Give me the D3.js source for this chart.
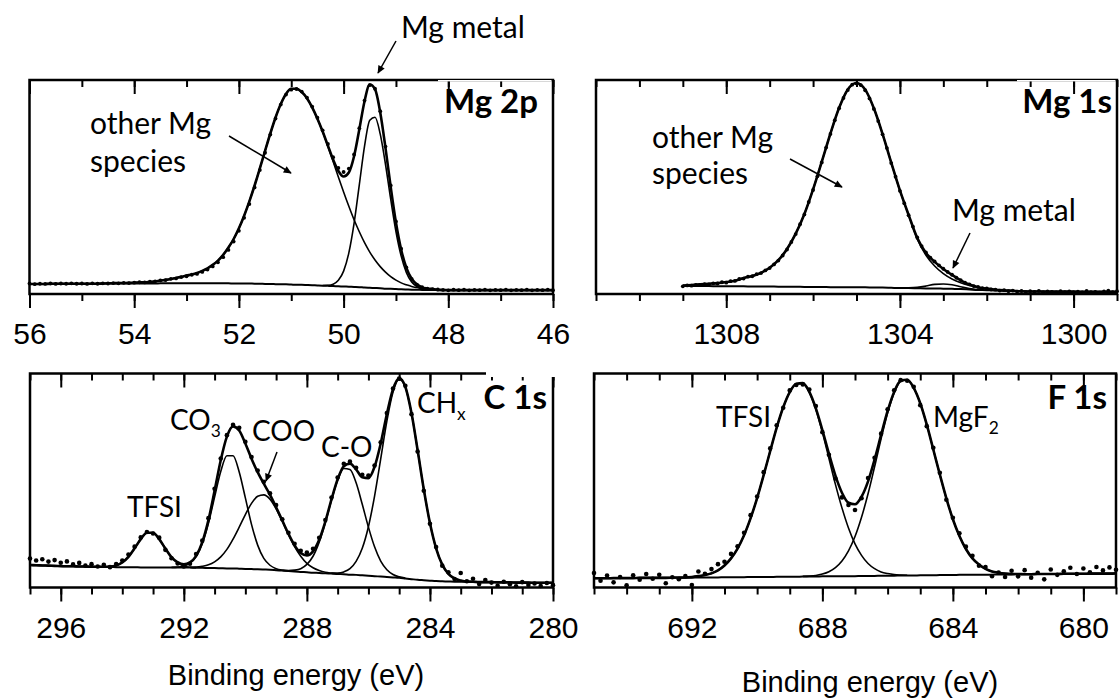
<!DOCTYPE html>
<html><head><meta charset="utf-8">
<script src="https://cdn.jsdelivr.net/npm/d3@7"></script>
<style>body{margin:0;background:#fff}svg{display:block}</style>
</head><body>
<svg id="c" width="1120" height="699"></svg>
<script>
// ================= DATA =================
// ---- Mg 2p (grid 0.1 eV, 56.0 -> 46.0) ----
const mg2pX0 = 56.0, mg2pStep = 0.1;
const mg2pBg = [4.7,4.7,4.7,4.7,4.8,4.8,4.8,4.8,4.8,4.8,
  4.8,4.8,4.8,4.8,4.9,4.9,4.9,4.9,4.9,4.9,
  4.9,4.9,4.9,4.9,4.9,5.0,5.0,5.0,5.0,5.0,
  5.0,5.0,5.0,5.0,5.0,5.0,5.0,5.0,5.0,4.9,
  4.9,4.9,4.9,4.8,4.8,4.7,4.7,4.6,4.5,4.5,
  4.4,4.3,4.3,4.2,4.1,4.0,3.9,3.8,3.7,3.6,
  3.5,3.4,3.3,3.2,3.0,2.9,2.8,2.7,2.5,2.4,
  2.3,2.2,2.1,2.0,2.0,1.9,1.9,1.9,1.8,1.8,
  1.8,1.8,1.8,1.8,1.8,1.8,1.8,1.8,1.8,1.8,
  1.8,1.8,1.8,1.8,1.8,1.8,1.8,1.8,1.8,1.8,1.8];
const mg2pOtherFrom = 54.5;
const mg2pOther = [0.1,0.15,0.2,0.25,0.3,0.4,0.5,0.6,0.8,1.0,
  1.3,1.6,2.0,2.5,3.0,3.6,4.1,4.8,5.8,7.0,
  8.6,10.6,13.3,16.7,20.8,25.8,31.7,38.4,45.9,53.9,
  62.2,70.3,77.9,84.3,89.0,91.5,91.6,90.1,87.3,83.1,
  77.9,71.9,65.2,58.2,51.1,44.2,37.6,31.4,25.9,21.0,
  16.7,13.1,10.1,7.7,5.7,4.2,3.0,2.2,1.5,1.0,
  0.7,0.5,0.3,0.2,0.1];
const mg2pMetalFrom = 50.4;
const mg2pMetal = [0.1,0.3,0.9,2.8,7.2,15.8,29.7,47.8,66.1,78.3,
  79.8,72.0,58.1,41.9,26.9,15.5,7.9,3.6,1.5,0.5,0.2,0.1];
const mg2pDotX0 = 56.0, mg2pDotStep = 0.1;
const mg2pDots = [4.9,4.6,4.8,4.7,4.9,4.7,4.9,4.8,5.0,4.8,
  4.9,4.7,5.0,4.8,5.0,4.9,5.1,5.0,5.2,5.1,
  5.3,5.5,5.4,5.8,5.9,6.4,6.5,7.1,7.3,7.9,
  8.3,9.0,9.4,10.3,11.4,12.9,14.8,17.2,20.6,24.5,
  29.5,35.6,42.0,49.8,57.9,66.0,74.5,82.0,88.5,93.2,
  95.5,95.8,94.6,91.8,87.6,82.4,76.5,70.1,63.9,58.9,
  57.0,58.6,65.2,77.5,90.4,97.6,95.9,85.4,68.9,50.7,
  33.9,21.2,12.4,7.0,4.4,3.2,2.5,2.3,2.1,1.9,
  1.7,2.0,1.8,2.0,1.7,1.9,1.8,2.0,1.7,1.9,
  1.8,2.0,1.7,1.9,1.8,2.0,1.7,1.9,1.8,2.0,1.8];
const mg2pTicks = [56, 54, 52, 50, 48, 46];

// ---- Mg 1s (grid 0.2 eV, 1309.0 -> 1299.0) ----
const mg1sX0 = 1309.0, mg1sStep = 0.2;
const mg1sBg = [3.7,3.7,3.7,3.7,3.6,3.6,3.6,3.6,3.5,3.5,
  3.5,3.4,3.4,3.4,3.3,3.3,3.3,3.2,3.2,3.2,
  3.1,3.1,3.0,3.0,2.9,2.8,2.8,2.7,2.6,2.6,
  2.5,2.4,2.3,2.1,1.9,1.8,1.6,1.5,1.4,1.3,
  1.2,1.2,1.1,1.1,1.1,1.1,1.0,1.0,1.0,1.0,1.0];
const mg1sOtherFrom = 1309.0;
const mg1sOther = [0.3,0.5,0.8,1.1,1.5,2.0,2.6,3.9,4.9,6.4,
  8.8,12.4,17.6,24.8,34.1,45.6,58.5,71.8,83.8,92.4,
  95.5,92.4,83.8,71.8,58.5,45.6,34.1,23.0,15.5,10.5,
  7.0,4.6,3.0,1.9,1.2,0.7,0.4,0.2,0.1];
const mg1sMetalFrom = 1303.8;
const mg1sMetal = [0.1,0.4,1.1,1.9,2.2,1.9,1.1,0.4,0.1];
const mg1sDotX0 = 1309.0, mg1sDotStep = 0.1;
const mg1sDots = [3.6,4.0,3.9,4.3,4.2,4.6,4.5,5.0,4.9,5.5,
  5.3,6.0,6.1,7.0,7.2,8.1,8.3,9.3,9.8,11.0,
  12.1,13.8,15.6,18.0,20.8,24.3,28.0,32.6,37.2,43.0,
  48.6,55.0,61.5,68.4,74.8,81.2,86.8,91.6,95.3,97.8,
  98.4,97.6,95.2,91.4,86.5,80.8,74.6,68.2,61.2,54.8,
  48.2,42.4,36.8,31.5,26.4,22.4,19.4,17.0,15.2,13.4,
  11.8,10.3,9.0,7.6,6.5,5.3,4.5,3.7,3.3,2.7,
  2.6,2.1,2.0,1.6,1.8,1.3,1.6,1.1,1.4,0.9,
  1.3,1.0,1.5,0.8,1.2,1.0,0.7,1.3,0.9,1.2,
  0.7,1.1,0.8,1.4,0.9,1.0,0.6,1.2,1.6,0.9,1.3];
const mg1sTicks = [1308, 1304, 1300];

// ---- C 1s (grid 0.2 eV, 297.0 -> 280.0) ----
const c1sX0 = 297.0, c1sStep = 0.2;
const c1sBg = [10.5,10.4,10.3,10.2,10.1,10.0,9.9,9.9,9.8,9.8,9.7,9.7,9.6,9.6,9.5,9.5,
  9.5,9.5,9.4,9.4,9.4,9.4,9.4,9.3,9.3,9.3,9.3,9.2,9.2,9.1,9.1,9.0,8.9,8.9,8.8,8.7,
  8.6,8.5,8.4,8.3,8.1,7.9,7.7,7.5,7.3,7.1,6.9,6.8,6.6,6.5,6.3,6.2,6.0,5.9,5.7,5.5,
  5.3,5.1,4.9,4.7,4.5,4.2,3.9,3.6,3.4,3.2,3.0,2.9,2.8,2.7,2.7,2.6,2.6,2.5,2.5,2.5,
  2.4,2.4,2.4,2.3,2.3,2.3,2.2,2.2,2.2,2.2];
const c1sTfsiFrom = 294.6;
const c1sTfsi = [0.1,0.2,0.8,2.2,4.8,8.8,13.2,16.2,16.2,13.2,8.8,4.8,2.2,0.8,0.2,0.1];
const c1sCo3From = 292.4;
const c1sCo3 = [0.1,0.2,0.7,2.1,5.2,11.3,20.9,33.2,45.2,52.7,52.7,45.2,33.2,20.9,11.3,5.2,2.1,0.7,0.2,0.1];
const c1sCooFrom = 291.8;
const c1sCoo = [0.1,0.3,0.7,1.5,2.9,5.3,8.9,13.7,19.4,25.4,30.7,34.1,34.9,33.0,28.7,23.1,17.1,11.6,7.3,4.2,2.3,1.1,0.5,0.2,0.1];
const c1sCoFrom = 288.8;
const c1sCo = [0.1,0.2,0.6,1.5,3.7,7.7,14.4,23.7,34.4,43.8,49.4,49.1,43.0,33.2,22.7,13.7,7.2,3.4,1.4,0.5,0.2];
const c1sChxFrom = 287.2;
const c1sChx = [0.1,0.4,1.1,2.8,6.3,12.6,22.9,37.4,55.0,72.8,86.6,92.8,89.4,77.6,60.5,42.5,26.9,15.3,7.8,3.6,1.5,0.6,0.2,0.1];
const c1sDotX0 = 297.0, c1sDotStep = 0.2;
const c1sDots = [13.5,12.6,13.2,12.1,12.8,11.6,12.2,10.8,11.5,10.2,
  10.9,9.8,10.6,9.5,11.0,12.6,15.4,19.1,23.4,25.9,
  25.2,23.3,17.6,13.7,11.2,9.8,11.1,15.6,21.9,32.4,
  46.1,60.3,71.2,76.0,74.6,68.1,61.0,54.7,49.4,44.0,
  38.5,31.9,25.6,20.4,17.2,16.3,18.1,23.2,31.5,42.0,
  51.4,57.8,58.8,55.9,52.7,52.3,57.0,67.9,81.5,93.0,
  97.6,94.3,81.0,63.5,45.2,29.8,18.9,10.2,7.1,4.0,
  6.8,2.9,4.1,1.6,3.5,2.3,0.8,2.7,1.5,0.6,
  2.5,1.2,1.9,0.7,2.1,1.1];
const c1sTicks = [296, 292, 288, 284, 280];

// ---- F 1s (grid 0.2 eV, 695.0 -> 679.0) ----
const f1sX0 = 695.0, f1sStep = 0.2;
const f1sBg = [4.3,4.3,4.3,4.4,4.4,4.4,4.4,4.5,4.5,4.5,4.5,
  4.5,4.6,4.6,4.6,4.6,4.7,4.7,4.7,4.7,4.8,
  4.8,4.8,4.8,4.9,4.9,4.9,4.9,5.0,5.0,5.0,
  5.0,5.1,5.1,5.1,5.2,5.2,5.2,5.3,5.3,5.3,
  5.4,5.4,5.4,5.5,5.5,5.5,5.6,5.6,5.6,5.7,
  5.7,5.7,5.8,5.8,5.8,5.9,5.9,5.9,6.0,6.0,
  6.0,6.1,6.1,6.1,6.2,6.2,6.2,6.3,6.3,6.3,
  6.3,6.4,6.4,6.4,6.4,6.5,6.5,6.5,6.5,6.6];
const f1sTfsiFrom = 692.4;
const f1sTfsi = [0.1,0.1,0.3,0.6,1.1,1.9,3.3,5.5,8.8,13.4,19.6,27.5,36.9,47.6,58.8,69.7,79.2,86.3,90.2,
  90.3,86.1,78.1,67.3,55.2,43.0,31.9,22.5,15.1,9.6,5.8,3.4,1.8,1.0,0.5,0.2,0.1];
const f1sMgf2From = 688.6;
const f1sMgf2 = [0.1,0.2,0.5,1.1,2.2,4.1,7.1,11.8,18.5,27.4,38.4,51.0,64.0,76.0,85.4,90.8,
  91.4,87.7,80.4,70.4,58.8,47.0,35.9,26.1,18.2,12.1,7.7,4.7,2.7,1.5,0.8,0.4,0.2,0.1];
const f1sDotX0 = 695.0, f1sDotStep = 0.2;
const f1sDots = [6.8,3.2,5.6,2.4,4.9,1.0,5.7,3.6,6.3,4.1,5.9,2.0,4.8,3.9,5.4,1.2,7.5,6.4,8.6,10.9,12.0,
  15.7,19.3,25.6,33.8,42.5,53.9,65.0,75.8,84.0,92.1,94.6,94.9,92.5,84.8,72.6,62.0,50.9,42.1,38.6,36.2,
  41.7,51.2,60.6,71.9,83.3,92.2,96.9,96.6,93.8,85.2,75.4,65.3,53.6,41.0,32.6,25.3,19.1,14.8,10.2,9.6,
  5.3,7.0,4.9,7.8,5.2,8.1,4.6,6.9,3.8,8.4,5.9,7.6,9.2,6.3,8.9,7.1,9.6,8.0,9.4,8.3];
const f1sTicks = [692, 688, 684, 680];

// ================= DRAWING =================
const svg = d3.select('#c');
const TICKFONT = "Liberation Sans, Arial, Helvetica, sans-serif";
const ANNFONT = "Lato, Open Sans, sans-serif";
svg.append('defs').append('marker')
  .attr('id', 'ah').attr('viewBox', '0 0 10 10').attr('refX', 9).attr('refY', 5)
  .attr('markerWidth', 10).attr('markerHeight', 8).attr('markerUnits', 'userSpaceOnUse')
  .attr('orient', 'auto')
  .append('path').attr('d', 'M0,0.5 L10,5 L0,9.5 Z').attr('fill', '#000');

function panel(p) {
  const x = d3.scaleLinear().domain(p.domain).range([p.box.l, p.box.r]);
  const y = d3.scaleLinear().domain([0, 100]).range([p.box.b, p.box.t]);
  const g = svg.append('g');
  const gx = d3.range(p.bg.length).map(i => p.x0 - i * p.step);
  const line = d3.line().x(d => x(d[0])).y(d => y(d[1])).curve(d3.curveMonotoneX);
  const env = p.bg.slice();
  p.comps.forEach(c => {
    const k = Math.round((p.x0 - c.from) / p.step);
    const pts = c.vals.map((v, j) => { env[k + j] += v; return [gx[k + j], p.bg[k + j] + v]; });
    g.append('path').attr('d', line(pts)).attr('fill', 'none')
      .attr('stroke', '#000').attr('stroke-width', 1.6);
  });
  g.append('path').attr('d', line(p.bg.map((v, i) => [gx[i], v])))
    .attr('fill', 'none').attr('stroke', '#000').attr('stroke-width', 2);
  g.append('path').attr('d', line(env.map((v, i) => [gx[i], v])))
    .attr('fill', 'none').attr('stroke', '#000').attr('stroke-width', 2.6);
  g.selectAll('circle.dot').data(p.dots.map((v, i) => [p.dotX0 - i * p.dotStep, v]))
    .join('circle').attr('class', 'dot')
    .attr('cx', d => x(d[0])).attr('cy', d => y(d[1])).attr('r', p.r).attr('fill', '#000');

  // frame
  g.append('rect').attr('x', p.box.l).attr('y', p.box.t)
    .attr('width', p.box.r - p.box.l).attr('height', p.box.b - p.box.t)
    .attr('fill', 'none').attr('stroke', '#000').attr('stroke-width', 2.5);

  const lo = Math.min(...p.domain), hi = Math.max(...p.domain);
  const minors = d3.range(Math.ceil(lo), Math.floor(hi) + 1);
  const styleAxis = sel => {
    sel.attr('font-family', TICKFONT).attr('font-size', 30);
    sel.select('.domain').remove();
    sel.selectAll('.tick line').attr('stroke', '#000').attr('stroke-width', 2);
    sel.selectAll('.tick text').style('font-family', TICKFONT).style('font-size', '30px').attr('fill', '#000');
  };
  [p.box.t, p.box.b].forEach((yy, idx) => {
    g.append('g').attr('transform', `translate(0,${yy})`)
      .call(d3.axisBottom(x).tickValues(minors).tickSize(7).tickFormat(''))
      .call(styleAxis);
    const ax = d3.axisBottom(x).tickValues(p.ticks).tickSize(14).tickPadding(14.7)
      .tickFormat(idx === 1 ? d3.format('d') : '');
    g.append('g').attr('transform', `translate(0,${yy})`).call(ax).call(styleAxis);
  });
  return g;
}

function txt(x, y, s, opt = {}) {
  const size = opt.size || 28;
  const t = svg.append('text').attr('x', x).attr('y', y)
    .style('font-family', opt.font || ANNFONT).style('font-size', size + 'px')
    .attr('font-weight', opt.bold ? 700 : 400).attr('text-anchor', opt.anchor || 'start')
    .attr('fill', '#000');
  if (Array.isArray(s)) {
    t.append('tspan').text(s[0]);
    t.append('tspan').text(s[1]).style('font-size', (size * 0.62) + 'px').attr('dy', 7);
  } else t.text(s);
  return t;
}
function arrow(x1, y1, x2, y2) {
  svg.append('line').attr('x1', x1).attr('y1', y1).attr('x2', x2).attr('y2', y2)
    .attr('stroke', '#000').attr('stroke-width', 1.5).attr('marker-end', 'url(#ah)');
}
function whiteout(x, y, w, h) {
  svg.append('rect').attr('x', x).attr('y', y).attr('width', w).attr('height', h).attr('fill', '#fff');
}

// Mg 2p
panel({domain: [56, 46], box: {l: 29.5, r: 553, t: 80, b: 294},
  x0: mg2pX0, step: mg2pStep, bg: mg2pBg,
  comps: [{from: mg2pOtherFrom, vals: mg2pOther}, {from: mg2pMetalFrom, vals: mg2pMetal}],
  dots: mg2pDots, dotX0: mg2pDotX0, dotStep: mg2pDotStep, r: 1.9, ticks: mg2pTicks});
// Mg 1s
panel({domain: [1311, 1299], box: {l: 596, r: 1117, t: 80, b: 294},
  x0: mg1sX0, step: mg1sStep, bg: mg1sBg,
  comps: [{from: mg1sOtherFrom, vals: mg1sOther}, {from: mg1sMetalFrom, vals: mg1sMetal}],
  dots: mg1sDots, dotX0: mg1sDotX0, dotStep: mg1sDotStep, r: 1.9, ticks: mg1sTicks});
// C 1s
panel({domain: [297, 280], box: {l: 30, r: 553, t: 373.5, b: 587.5},
  x0: c1sX0, step: c1sStep, bg: c1sBg,
  comps: [{from: c1sTfsiFrom, vals: c1sTfsi}, {from: c1sCo3From, vals: c1sCo3},
          {from: c1sCooFrom, vals: c1sCoo}, {from: c1sCoFrom, vals: c1sCo},
          {from: c1sChxFrom, vals: c1sChx}],
  dots: c1sDots, dotX0: c1sDotX0, dotStep: c1sDotStep, r: 2.3, ticks: c1sTicks});
// F 1s
panel({domain: [695, 679], box: {l: 594, r: 1116, t: 373.5, b: 587.5},
  x0: f1sX0, step: f1sStep, bg: f1sBg,
  comps: [{from: f1sTfsiFrom, vals: f1sTfsi}, {from: f1sMgf2From, vals: f1sMgf2}],
  dots: f1sDots, dotX0: f1sDotX0, dotStep: f1sDotStep, r: 2.3, ticks: f1sTicks});

// label boxes partly covering the frame
whiteout(438, 80, 113.5, 1.4);
whiteout(1017, 80, 98.5, 1.4);
whiteout(486, 371, 69, 6);

// annotations
txt(538, 113, 'Mg 2p', {bold: true, size: 33, anchor: 'end'});
txt(1112, 113, 'Mg 1s', {bold: true, size: 33, anchor: 'end'});
txt(547, 409, 'C 1s', {bold: true, size: 33, anchor: 'end'});
txt(1107, 409, 'F 1s', {bold: true, size: 33, anchor: 'end'});

txt(401, 38, 'Mg metal', {size: 30});
arrow(396, 41, 378, 73);
txt(90, 134, 'other Mg', {size: 30});
txt(90, 172, 'species', {size: 30});
arrow(229, 136, 291, 173);

txt(652, 148, 'other Mg', {size: 30});
txt(652, 184, 'species', {size: 30});
arrow(790, 159, 842, 187);
txt(952, 221, 'Mg metal', {size: 30});
arrow(970, 233, 953, 268);

txt(127, 517, 'TFSI');
txt(170, 430, ['CO', '3']);
txt(252, 441, 'COO');
arrow(277, 452, 266, 481);
txt(321, 457, 'C-O');
txt(417, 413, ['CH', 'x']);

txt(771, 427, 'TFSI', {anchor: 'end'});
txt(933, 427, ['MgF', '2']);

txt(296, 685, 'Binding energy (eV)', {font: TICKFONT, size: 29, anchor: 'middle'});
txt(870, 692, 'Binding energy (eV)', {font: TICKFONT, size: 29, anchor: 'middle'});
</script>
</body></html>
